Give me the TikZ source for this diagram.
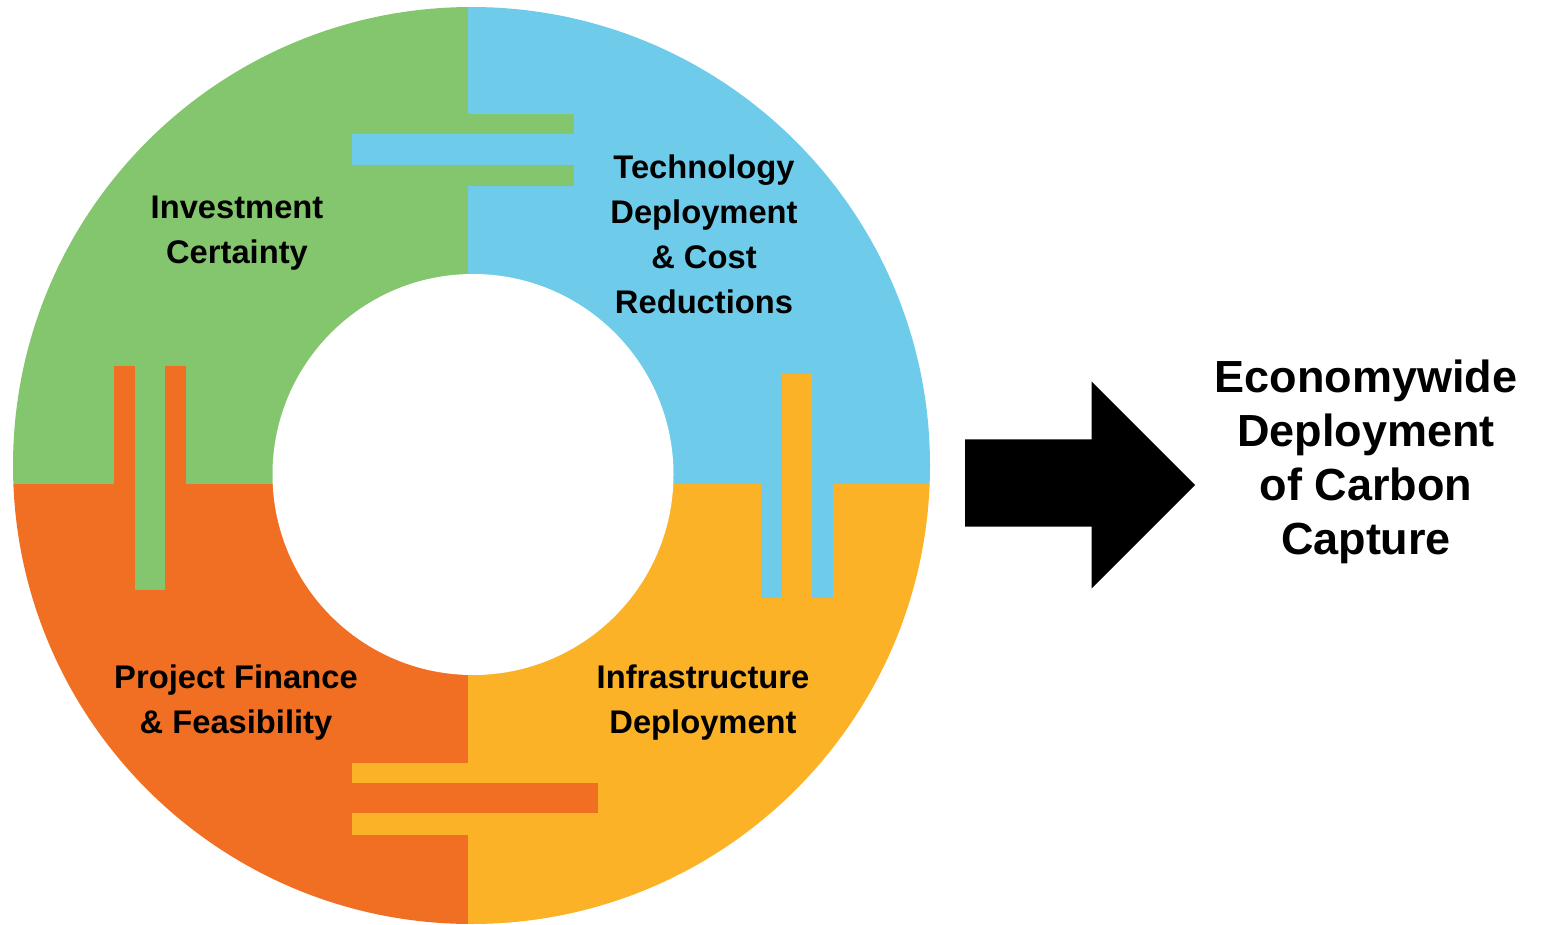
\documentclass[tikz,border=0pt]{standalone}
\usepackage{fontspec}
\setmainfont{Liberation Sans}
\definecolor{cgreen}{RGB}{132,198,110}
\definecolor{cblue}{RGB}{110,204,234}
\definecolor{corange}{RGB}{241,111,34}
\definecolor{cyellow}{RGB}{251,178,38}
\tikzset{
  seglabel/.style={align=center,font=\fontsize{32.7}{45}\selectfont\bfseries,text=black,inner sep=0pt},
  biglabel/.style={align=center,font=\fontsize{45}{54}\selectfont\bfseries,text=black,inner sep=0pt}
}
\begin{document}
\begin{tikzpicture}[x=1pt,y=-1pt]
\useasboundingbox (0,0) rectangle (1547,924);
\fill[white] (0,0) rectangle (1547,924);
\begin{scope}
\clip (471.5,465.5) circle[radius=458.5];
% quadrants
\fill[cgreen] (0,0) rectangle (467.5,483.5);
\fill[cblue] (467.5,0) rectangle (940,483.5);
\fill[corange] (0,483.5) rectangle (467.5,940);
\fill[cyellow] (467.5,483.5) rectangle (940,940);
% top tabs
\fill[cgreen] (467.5,114) rectangle (574,134.3);
\fill[cgreen] (467.5,165) rectangle (574,186);
\fill[cblue] (352,134.3) rectangle (467.5,165);
% left tabs
\fill[corange] (114,365.7) rectangle (135,483.5);
\fill[corange] (165.3,365.7) rectangle (186.3,483.5);
\fill[cgreen] (135,483.5) rectangle (165.3,590);
% right tabs
\fill[cyellow] (781.7,374) rectangle (811.7,483.5);
\fill[cblue] (761,483.5) rectangle (781.7,598.3);
\fill[cblue] (811.7,483.5) rectangle (832.7,598.3);
% bottom tabs
\fill[cyellow] (352.3,762.7) rectangle (467.5,783.3);
\fill[cyellow] (352.3,813.3) rectangle (467.5,835);
\fill[corange] (352.3,783.3) rectangle (597.7,813.3);
\end{scope}
\fill[white] (473,474.5) circle[radius=200.5];
% labels
\node[seglabel] (inv) at (237,233.5) {Investment\\Certainty};
\node[seglabel] (tech) at (704,234.5) {Technology\\Deployment\\\& Cost\\Reductions};
\node[seglabel] (fin) at (236,702.5) {Project Finance\\\& Feasibility};
\node[seglabel] (infra) at (703,702.5) {Infrastructure\\Deployment};
% arrow
\fill[black] (965,439.3) -- (1091.7,439.3) -- (1091.7,381.7) -- (1195,485)
  -- (1091.7,588.3) -- (1091.7,526.7) -- (965,526.7) -- cycle;
\node[biglabel] (goal) at (1366,462) {Economywide\\Deployment\\of Carbon\\Capture};
\end{tikzpicture}
\end{document}
